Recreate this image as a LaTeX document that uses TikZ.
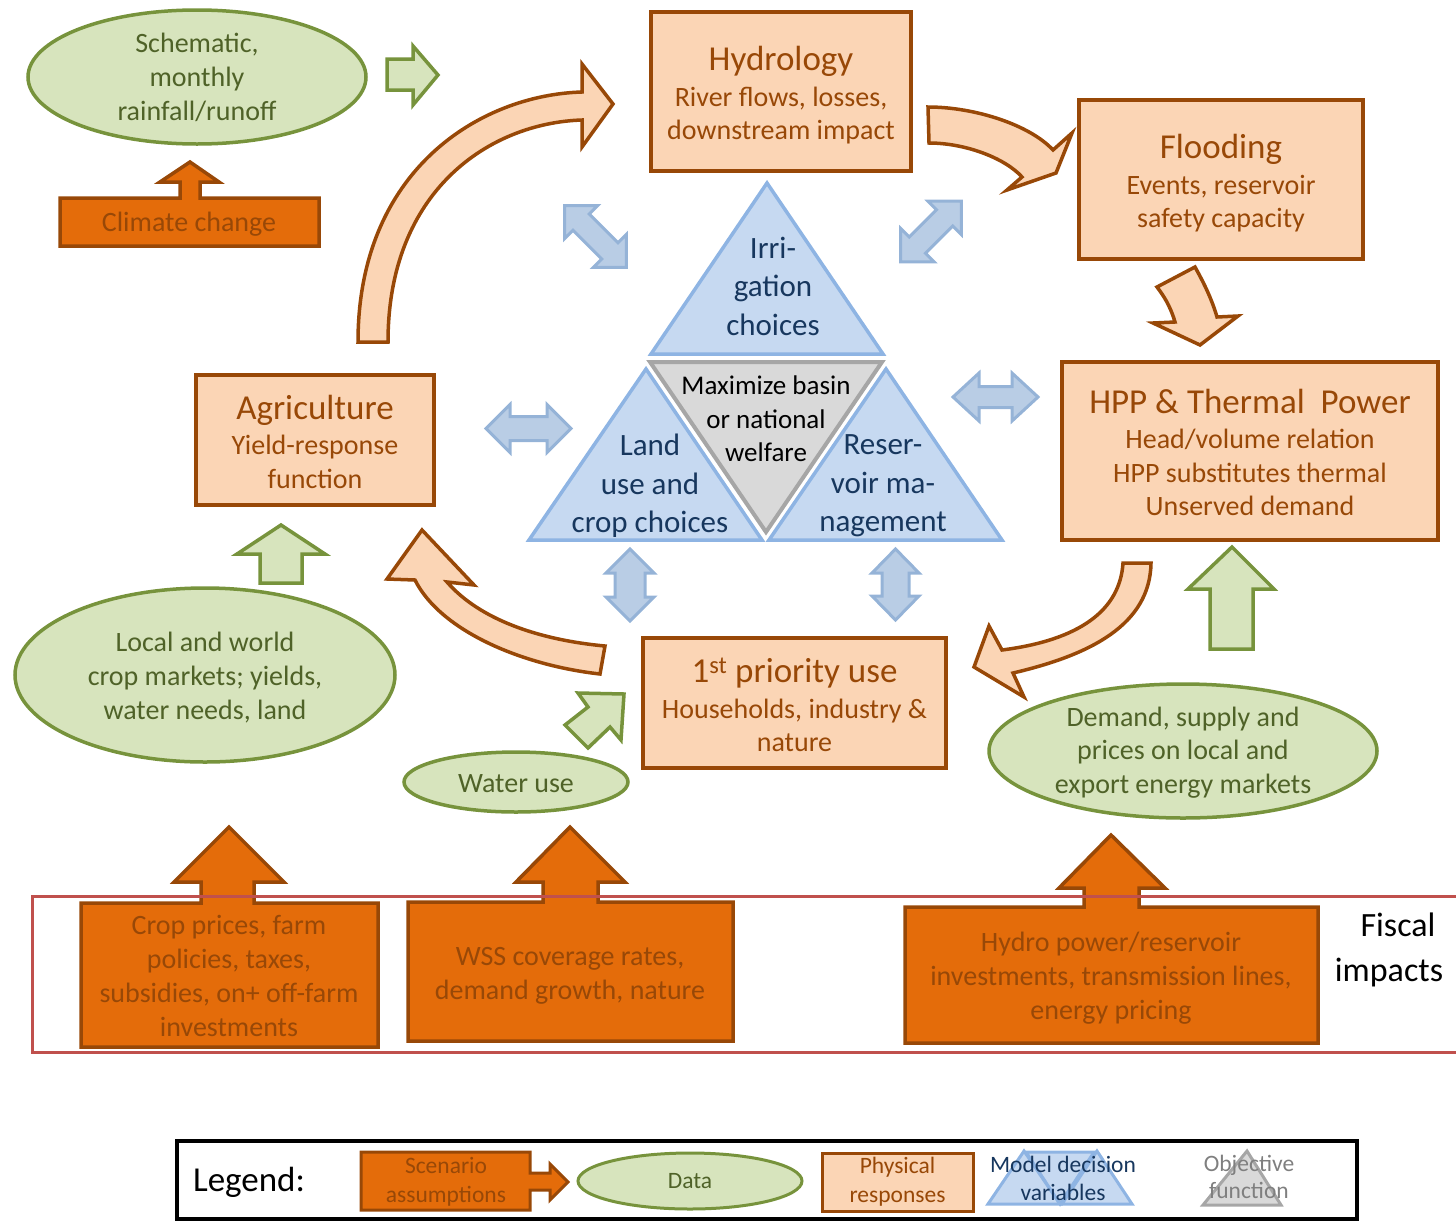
\documentclass[tikz,border=0pt]{standalone}
\usepackage{fontspec}
\setmainfont{Carlito}
\usetikzlibrary{shapes.geometric}
\definecolor{peach}{HTML}{FBD5B5}
\definecolor{brn}{HTML}{984807}
\definecolor{dgreen}{HTML}{D7E4BD}
\definecolor{ggreen}{HTML}{77933C}
\definecolor{tgreen}{HTML}{4F6228}
\definecolor{orng}{HTML}{E46C0A}
\definecolor{bfill}{HTML}{C6D9F1}
\definecolor{bline}{HTML}{8EB4E3}
\definecolor{btext}{HTML}{17375E}
\definecolor{afill}{HTML}{B9CDE5}
\definecolor{aline}{HTML}{95B3D7}
\definecolor{gfill}{HTML}{D9D9D9}
\definecolor{gline}{HTML}{A6A6A6}
\definecolor{redf}{HTML}{C0504D}
\definecolor{gtext}{HTML}{7F7F7F}
\newcommand\fsz[2]{\fontsize{#1pt}{#2pt}\selectfont}
\newcommand\dblarr[7]{\draw[darr,shift={(#1,#2)},rotate=#3] (-#4,0) -- (-#4+#5,#6) -- (-#4+#5,#7) -- (#4-#5,#7) -- (#4-#5,#6) -- (#4,0) -- (#4-#5,-#6) -- (#4-#5,-#7) -- (-#4+#5,-#7) -- (-#4+#5,-#6) -- cycle;}
\begin{document}
\begin{tikzpicture}[x=1pt,y=-1pt,
  phys/.style={draw=brn, fill=peach, line width=3.5pt, text=brn, align=center, inner sep=0pt, font=\fsz{28}{33.5}},
  ptext/.style={text=brn, align=center, inner sep=0pt, font=\fsz{28}{33.5}},
  data/.style={ellipse, draw=ggreen, fill=dgreen, line width=3.5pt, text=tgreen, align=center, inner sep=0pt, font=\fsz{28}{34}},
  pa/.style={draw=brn, fill=peach, line width=3.5pt, line join=miter},
  ga/.style={draw=ggreen, fill=dgreen, line width=3.5pt, line join=miter},
  scen/.style={draw=brn, fill=orng, line width=3.5pt, line join=miter},
  stext/.style={text=brn, align=center, font=\fsz{28}{33.7}, inner sep=0pt},
  btri/.style={draw=bline, fill=bfill, line width=3.5pt, line join=miter},
  gtri/.style={draw=gline, fill=gfill, line width=4pt, line join=miter},
  ttext/.style={text=btext, align=center, font=\fsz{31}{38.5}, inner sep=0pt},
  darr/.style={draw=aline, fill=afill, line width=3pt, line join=miter},
  ltext/.style={align=center, font=\fsz{23.5}{29}, inner sep=0pt}
]
\useasboundingbox (0,0) rectangle (1456,1221);

% ---------- physical response boxes ----------
\node[phys, minimum width=260pt, minimum height=159pt] (hyd) at (781,91.5) {};
\node[ptext] (hydt) at (781,95.5)
  {{\fsz{35}{40}Hydrology}\\[2pt] River flows, losses,\\ downstream impact};
\node[phys, minimum width=284pt, minimum height=159pt] (flood) at (1221,179.5) {};
\node[ptext] (floodt) at (1221,183.5)
  {{\fsz{35}{40}Flooding}\\[2pt] Events, reservoir\\ safety capacity};
\node[phys, minimum width=376pt, minimum height=178pt] (hpp) at (1250,451) {};
\node[ptext] (hppt) at (1250,452.5)
  {{\fsz{35}{40}HPP \& Thermal\ \ Power}\\[2pt] Head/volume relation\\ HPP substitutes thermal\\ Unserved demand};
\node[phys, minimum width=238pt, minimum height=130pt] (agri) at (315,440) {};
\node[ptext] (agrit) at (315,441.5)
  {{\fsz{35}{40}Agriculture}\\[2pt] Yield-response\\ function};
\node[phys, minimum width=303pt, minimum height=130pt] (prio) at (794.5,703) {};
\node[ptext] (priot) at (794.5,705)
  {{\fsz{35}{40}1\textsuperscript{st} priority use}\\[2pt] Households, industry \&\\ nature};

% ---------- data ellipses ----------
\node[data, minimum width=338pt, minimum height=134pt] (schem) at (197,77) {Schematic,\\ monthly\\ rainfall/runoff};
\node[data, minimum width=380pt, minimum height=174pt] (local) at (205,675) {};
\node[text=tgreen, align=center, inner sep=0pt, font=\fsz{28}{34}] (localt) at (205,677.5) {Local and world\\ crop markets; yields,\\ water needs, land};
\node[data, minimum width=224pt, minimum height=60pt] (water) at (516,782) {};
\node[text=tgreen, inner sep=0pt, font=\fsz{28}{34}] (watert) at (516,783.5) {Water use};
\node[data, minimum width=388pt, minimum height=134pt] (demand) at (1183,751) {};
\node[text=tgreen, align=center, inner sep=0pt, font=\fsz{28}{33.5}] (demandt) at (1183,752.5) {Demand, supply and\\ prices on local and\\ export energy markets};

% ---------- curved physical arrows ----------
\draw[pa] (358,342) .. controls (358,170) and (480,95) .. (582,92) -- (582,64) -- (613,104) -- (582,147) -- (582,120) .. controls (490,123) and (388,190) .. (388,342) -- cycle;
\draw[pa] (928,107) .. controls (975,107) and (1030,125) .. (1053,150) -- (1072,133) -- (1056,173) -- (1007,190) -- (1022,177) .. controls (1005,158) and (965,143) .. (929,143) -- cycle;
\draw[pa] (1157,287) -- (1195,267) .. controls (1205,285) and (1212,300) .. (1217,317) -- (1238,316) -- (1200,345) -- (1153,323) -- (1175,322) .. controls (1170,305) and (1163,295) .. (1157,287) -- cycle;
\draw[pa] (1123,563) -- (1151,563) .. controls (1150,625) and (1090,655) .. (1013,673) -- (1024,697) -- (974,667) -- (989,626) -- (1002,650) .. controls (1080,640) and (1120,610) .. (1123,563) -- cycle;
\draw[pa] (605,646) .. controls (540,640) and (480,620) .. (447,582) -- (474,585) -- (422,530) -- (387,579) -- (415,580) .. controls (440,630) and (520,665) .. (600,674) -- cycle;

% ---------- green data arrows ----------
\draw[ga] (387,59) -- (413,59) -- (413,46) -- (438,75) -- (413,105) -- (413,90) -- (387,90) -- cycle;
\draw[ga] (260,583) -- (260,554) -- (237,554) -- (281,525) -- (325,554) -- (302,554) -- (302,583) -- cycle;
\draw[ga] (578,693) -- (624,694) -- (621,740) -- (610,727) -- (588,748) -- (565,725) -- (588,707) -- cycle;
\draw[ga] (1210,649) -- (1210,589) -- (1188,589) -- (1232,547) -- (1274,589) -- (1253,589) -- (1253,649) -- cycle;

% ---------- central triangles ----------
\draw[btri] (651,354) -- (767,183) -- (883,354) -- cycle;
\draw[gtri] (650,362) -- (882,362) -- (766,532) -- cycle;
\draw[btri] (529,540) -- (646,369) -- (762,540) -- cycle;
\draw[btri] (769,540) -- (886,369) -- (1002,540) -- cycle;
\node[ttext] (irr) at (773,286) {Irri-\\gation\\choices};
\node[ttext] (land) at (650,486) {Land\\use and\\crop choices};
\node[ttext] (res) at (883,486) {Reser-\\voir ma-\\nagement};
\node[align=center, inner sep=0pt, font=\fsz{27}{33.5}] (obj) at (766,419) {Maximize basin\\or national\\welfare};

% ---------- blue double arrows ----------
\dblarr{528.5}{428.5}{0}{42.5}{24}{24}{12}
\dblarr{995.5}{397}{0}{42.5}{26}{24}{10.5}
\dblarr{630}{585}{90}{36}{24}{24}{15}
\dblarr{895.5}{584.5}{90}{35.5}{24}{23.5}{13.5}
\dblarr{595.5}{236.5}{-45}{43.8}{23.5}{23.5}{11.5}
\dblarr{931}{231.5}{45}{42.8}{23.5}{23.5}{11.5}

% ---------- scenario callouts ----------
\draw[scen] (60,198) -- (180,198) -- (180,182) -- (160,182) -- (190,162) -- (219,182) -- (200,182) -- (200,198) -- (319,198) -- (319,246) -- (60,246) -- cycle;
\node[stext] (clim) at (189,224) {Climate change};
\draw[scen] (81,903) -- (201,903) -- (201,882) -- (174,882) -- (229,827) -- (284,882) -- (254,882) -- (254,903) -- (378,903) -- (378,1047) -- (81,1047) -- cycle;
\node[stext] (crop) at (229,976) {Crop prices, farm\\ policies, taxes,\\ subsidies, on+ off-farm\\ investments};
\draw[scen] (408,902) -- (543,902) -- (543,882) -- (516,882) -- (570,827) -- (625,882) -- (598,882) -- (598,902) -- (733,902) -- (733,1041) -- (408,1041) -- cycle;
\node[stext] (wss) at (570,975.5) {WSS coverage rates,\\ demand growth, nature};
\draw[scen] (905,907) -- (1084,907) -- (1084,888) -- (1059,888) -- (1111,835) -- (1165,888) -- (1139,888) -- (1139,907) -- (1318,907) -- (1318,1043) -- (905,1043) -- cycle;
\node[stext] (hydro) at (1111,978) {Hydro power/reservoir\\ investments, transmission lines,\\ energy pricing};

% ---------- fiscal frame ----------
\draw[draw=redf, line width=3pt] (1462,896) -- (32,896) -- (32,1052) -- (1462,1052);
\node[align=center, inner sep=0pt, font=\fsz{34}{45}] (fiscal) at (1389,950) {\hspace*{18pt}Fiscal\\ impacts};

% ---------- legend ----------
\draw[line width=4pt] (177,1141) rectangle (1357,1219);
\node[inner sep=0pt, font=\fsz{35}{40}] (leg) at (249,1182) {Legend:};
\draw[scen, line width=3pt] (361,1152) -- (530,1152) -- (530,1173) -- (550,1173) -- (550,1164) -- (568,1182) -- (550,1200) -- (550,1190) -- (530,1190) -- (530,1210) -- (361,1210) -- cycle;
\node[ltext, text=brn] (lscen) at (446,1182) {Scenario\\ assumptions};
\node[data, line width=3pt, minimum width=224pt, minimum height=56pt, font=\fsz{23.5}{28}] (ldata) at (690,1181) {Data};
\node[phys, line width=3pt, minimum width=151pt, minimum height=58pt, font=\fsz{23.5}{29}] (lphys) at (897.5,1182) {Physical\\ responses};
\draw[btri, line width=3pt] (988,1204) -- (1024,1151) -- (1060,1204) -- cycle;
\draw[btri, line width=3pt] (1026,1152) -- (1094,1152) -- (1060,1204) -- cycle;
\draw[btri, line width=3pt] (1062,1204) -- (1097,1151) -- (1132,1204) -- cycle;
\node[ltext, text=btext, font=\fsz{23.5}{28}] (lmod) at (1063,1178) {Model decision\\ variables};
\draw[gtri, line width=3pt] (1203,1205) -- (1247,1151) -- (1281,1205) -- cycle;
\node[ltext, text=gtext, font=\fsz{23.5}{27}] (lobj) at (1249,1177) {Objective\\ function};
\end{tikzpicture}
\end{document}
